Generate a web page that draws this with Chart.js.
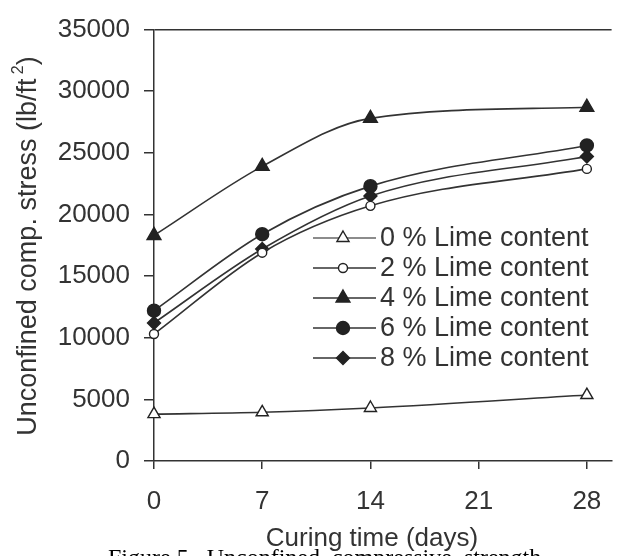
<!DOCTYPE html>
<html>
<head>
<meta charset="utf-8">
<script src="https://cdn.jsdelivr.net/npm/chart.js@4/dist/chart.umd.min.js"></script>
<style>
  html, body { margin: 0; padding: 0; background: #fff; }
  #wrap { width: 621px; height: 556px; position: relative; }
</style>
</head>
<body>
<div id="wrap"><canvas id="chart"></canvas></div>
<script>
// --------------------------
// data
// --------------------------
const days = [0, 7, 14, 28];
const xTicks = [0, 7, 14, 21, 28];
const lime0 = [3800, 3950, 4300, 5350];
const lime2 = [10300, 16900, 20700, 23700];
const lime4 = [18300, 23900, 27800, 28700];
const lime6 = [12200, 18400, 22300, 25600];
const lime8 = [11200, 17200, 21500, 24700];
const seriesLabels = [
  "0 % Lime content",
  "2 % Lime content",
  "4 % Lime content",
  "6 % Lime content",
  "8 % Lime content"
];
const xTitle = "Curing time (days)";
const yTitle = "Unconfined comp. stress (lb/ft";
const caption = "Figure 5.  Unconfined  compressive  strength";

const INK = "#333";
const FONT = "'Liberation Sans', Arial, sans-serif";

function pts(values) {
  return days.map((d, i) => ({ x: d, y: values[i] }));
}

function series(label, values, style, radius, filled) {
  return {
    label,
    data: pts(values),
    borderColor: INK,
    borderWidth: 1.6,
    pointStyle: style,
    pointRadius: radius,
    pointBackgroundColor: filled ? "#222" : "#fff",
    pointBorderColor: "#222",
    pointBorderWidth: 1.4,
    cubicInterpolationMode: "monotone",
    clip: false
  };
}

const datasets = [
  series(seriesLabels[0], lime0, "triangle", 7, false),
  series(seriesLabels[1], lime2, "circle", 4.5, false),
  series(seriesLabels[2], lime4, "triangle", 8, true),
  series(seriesLabels[3], lime6, "circle", 6.5, true),
  series(seriesLabels[4], lime8, "rectRot", 6.5, true)
];

// --------------------------
// titles, legend, caption
// --------------------------
const decorPlugin = {
  id: "decor",
  afterDraw(chart) {
    const ctx = chart.ctx;
    ctx.save();
    ctx.fillStyle = INK;

    // y title (rotated, with superscript)
    ctx.save();
    ctx.translate(29, 246);
    ctx.rotate(-Math.PI / 2);
    ctx.font = "27px " + FONT;
    const w1 = ctx.measureText(yTitle).width;
    ctx.font = "16px " + FONT;
    const w2 = ctx.measureText(" 2").width;
    ctx.font = "27px " + FONT;
    const w3 = ctx.measureText(")").width;
    const sx = -(w1 + w2 + w3) / 2;
    ctx.textBaseline = "middle";
    ctx.textAlign = "left";
    ctx.fillText(yTitle, sx, 0);
    ctx.font = "16px " + FONT;
    ctx.fillText(" 2", sx + w1, -10);
    ctx.font = "27px " + FONT;
    ctx.fillText(")", sx + w1 + w2, 0);
    ctx.restore();

    // x title
    ctx.font = "26px " + FONT;
    ctx.textAlign = "center";
    ctx.textBaseline = "alphabetic";
    ctx.fillText(xTitle, 372, 546);

    // caption (clipped by the canvas bottom)
    ctx.font = "24px 'Liberation Serif', 'Times New Roman', serif";
    ctx.textAlign = "left";
    ctx.fillStyle = "#000";
    ctx.fillText(caption, 108, 565);

    // legend
    const rowY = [238, 268, 298, 328, 358];
    ctx.font = "27px " + FONT;
    ctx.textBaseline = "middle";
    chart.data.datasets.forEach((ds, i) => {
      const y = rowY[i];
      ctx.beginPath();
      ctx.strokeStyle = i === 0 ? "#666" : INK;
      ctx.lineWidth = 1.6;
      ctx.moveTo(313, y);
      ctx.lineTo(376, y);
      ctx.stroke();
      ctx.fillStyle = ds.pointBackgroundColor;
      ctx.strokeStyle = ds.pointBorderColor;
      ctx.lineWidth = ds.pointBorderWidth;
      Chart.helpers.drawPoint(ctx, {
        pointStyle: ds.pointStyle,
        radius: ds.pointRadius,
        rotation: 0,
        borderWidth: ds.pointBorderWidth
      }, 343, y);
      ctx.fillStyle = INK;
      ctx.textAlign = "left";
      ctx.fillText(ds.label, 380, y + 1);
    });

    ctx.restore();
  }
};

// --------------------------
// chart
// --------------------------
new Chart(document.getElementById("chart").getContext("2d"), {
  type: "line",
  data: { datasets },
  options: {
    responsive: true,
    maintainAspectRatio: false,
    animation: false,
    layout: { padding: { top: 16, right: 0, left: 0, bottom: 0 } },
    plugins: {
      legend: { display: false },
      tooltip: { enabled: false }
    },
    scales: {
      x: {
        type: "linear",
        min: 0,
        max: 29.6,
        afterBuildTicks: s => { s.ticks = xTicks.map(v => ({ value: v })); },
        afterFit: s => { s.height = 95; },
        ticks: { color: INK, font: { family: FONT, size: 26 }, padding: 17, callback: v => String(v) },
        grid: { drawOnChartArea: false, color: INK, tickLength: 8, lineWidth: 1.5 },
        border: { color: INK, width: 1.5 }
      },
      y: {
        min: 0,
        max: 35000,
        afterFit: s => { s.width = 154; },
        ticks: { stepSize: 5000, color: INK, font: { family: FONT, size: 26 }, padding: 14, callback: v => String(v) },
        grid: {
          color: c => (c.tick && c.tick.value === 35000 ? INK : "rgba(0,0,0,0)"),
          tickColor: INK,
          tickLength: 10,
          lineWidth: 1.5
        },
        border: { color: INK, width: 1.5 }
      }
    }
  },
  plugins: [decorPlugin]
});
</script>
</body>
</html>
